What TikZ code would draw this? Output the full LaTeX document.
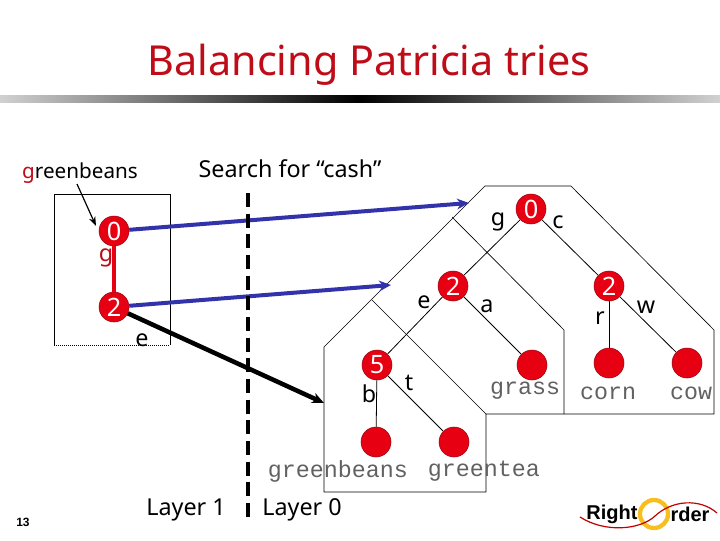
\documentclass[tikz,border=0pt]{standalone}
\usepackage{fontspec}
\setmainfont{Noto Sans}
\newfontfamily\courierfont{Liberation Mono}
\newfontfamily\arialfont{Liberation Sans}
\usepackage{xcolor}
\usepackage{tikz}
\usetikzlibrary{positioning,arrows.meta}
\definecolor{softred}{RGB}{230,0,18}
\definecolor{darkred}{RGB}{150,10,20}
\definecolor{titlered}{RGB}{190,12,24}
\definecolor{softblue}{RGB}{50,50,170}
\definecolor{softyellow}{RGB}{248,190,30}
\tikzset{
    trienode/.style={
        circle,
        draw=darkred,
        fill=softred,
        text=white,
        inner sep=0pt,
        minimum size=22.5pt,
        font=\fontsize{19}{19}\selectfont
    },
    label/.style={
        font=\fontsize{17.5}{17.5}\selectfont,
        inner sep=0pt
    },
    word/.style={
        font=\fontsize{17.5}{17.5}\selectfont\courierfont,
        text=black!62,
        inner sep=0pt
    },
    outline/.style={black, line width=0.5pt},
    bluearrow/.style={-{Stealth[length=9pt,width=8pt]}, softblue, line width=3pt},
    blackarrow/.style={-{Stealth[length=9pt,width=8pt]}, black, line width=3.4pt},
    treeedge/.style={black, line width=0.6pt}
}

\begin{document}
\begin{tikzpicture}[x=0.75pt,y=-0.75pt]
\useasboundingbox (0,0) rectangle (720,540);

% Title and bar
\node[font=\fontsize{31}{31}\selectfont, text=titlered, inner sep=0pt] (title) at (369,65) {Balancing Patricia tries};
\shade[left color=black!18, right color=black] (0,95) rectangle (358,102);
\shade[left color=black, right color=black!18] (358,95) rectangle (720,102);

% Top labels
\node[label] (query) at (290,169) {Search for ``cash''};
\node[label, font=\fontsize{15.5}{15.5}\selectfont] (word) at (80,173) {\textcolor{titlered}{g}reenbeans};

% Left box
\draw[outline] (170,345) -- (170,194) -- (54,194) -- (54,345);
\draw[outline, densely dotted] (54,345) -- (170,345);

% Upper layer nodes
\node[trienode] (top0) at (114,231) {0};
\node[trienode] (top2) at (114,307) {2};
\draw[softred, line width=3pt] (top0) -- (top2);
\node[label, text=titlered] (lbl-g) at (106,258) {g};
\node[label] (lbl-e) at (142,340) {e};
\coordinate (wordend) at (77,184);
\coordinate (boxtip) at (96,226);
\draw[-{Stealth[length=7pt,width=5pt]}, line width=0.9pt] (wordend) -- (boxtip);

% Layer outline
\draw[outline] (485,186) -- (571,186) -- (714,330) -- (714,414) -- (486,414) -- (486,492) -- (324,492) -- (324,347) -- cycle;
\draw[outline] (452,217) -- (564,330) -- (564,414);
\draw[outline] (372,300) -- (486,414);

% Tree nodes
\node[trienode] (root) at (531,209) {0};
\node[trienode] (left) at (453,286) {2};
\node[trienode] (right) at (609,286) {2};
\node[trienode] (five) at (377,365) {5};
\node[trienode] (grass) at (532,365) {};
\node[trienode] (corn) at (609,363) {};
\node[trienode] (cow) at (687,363) {};
\node[trienode] (beans) at (376,442) {};
\node[trienode] (tea) at (454,442) {};

% Tree edges
\draw[treeedge] (root) -- (left);
\draw[treeedge] (root) -- (right);
\draw[treeedge] (left) -- (five);
\draw[treeedge] (left) -- (grass);
\draw[treeedge] (right) -- (corn);
\draw[treeedge] (right) -- (cow);
\draw[treeedge] (five) -- (beans);
\draw[treeedge] (five) -- (tea);

% Edge labels
\node[label] (lbl-rg) at (498,222) {g};
\node[label] (lbl-rc) at (558,222) {c};
\node[label] (lbl-le) at (424,302) {e};
\node[label] (lbl-la) at (487,306) {a};
\node[label] (lbl-rr) at (600,318) {r};
\node[label] (lbl-rw) at (646,307) {w};
\node[label] (lbl-fb) at (369,394) {b};
\node[label] (lbl-ft) at (409,383) {t};

% Leaf words
\node[word] (txt-grass) at (525,391) {grass};
\node[word] (txt-corn) at (608,393) {corn};
\node[word] (txt-cow) at (691,393) {cow};
\node[word] (txt-beans) at (338,471) {greenbeans};
\node[word] (txt-tea) at (484,471) {greentea};

% Search arrows
\coordinate (tip0) at (469,203);
\coordinate (tip2) at (391,285);
\coordinate (tip5) at (324,403);
\draw[bluearrow] (top0) -- (tip0);
\draw[bluearrow] (top2) -- (tip2);
\draw[blackarrow] (top2) -- (tip5);

% Layer divider
\draw[black, line width=3.4pt, dash pattern=on 10.5pt off 5pt] (248,193) -- (248,518);
\node[label] (layer1) at (186,510) {Layer 1};
\node[label] (layer0) at (302,510) {Layer 0};

% Page number
\node[font=\fontsize{9}{9}\selectfont\arialfont\bfseries, inner sep=0pt] (page) at (23,522) {13};

% Logo
\draw[softyellow, line width=3.2pt] (654,514) circle (14);
\draw[red!75!black, line width=0.9pt] (580,517) .. controls (605,533) and (640,530) .. (655,516) .. controls (672,500) and (700,498) .. (717,513);
\node[font=\fontsize{15}{15}\selectfont\arialfont\bfseries, inner sep=0pt] (logo1) at (612,514) {Right};
\node[font=\fontsize{15}{15}\selectfont\arialfont\bfseries, inner sep=0pt] (logo2) at (690,514) {rder};

\end{tikzpicture}
\end{document}
